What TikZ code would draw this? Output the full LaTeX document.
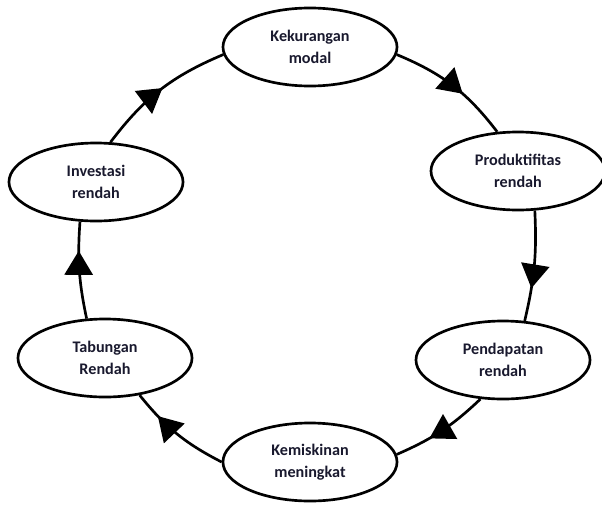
\documentclass[tikz,border=0pt]{standalone}
\usepackage{fontspec}
\setmainfont{Carlito}
\usepackage{tikz}
\usetikzlibrary{arrows.meta,shapes.geometric,decorations.markings}
\definecolor{textdark}{rgb}{0.1,0.1,0.18}

\begin{document}
\begin{tikzpicture}[x=0.025cm,y=-0.025cm,line width=1.9pt]
\tikzstyle{cycle box}=[ellipse,draw=black,line width=1.9pt,fill=white,inner sep=0pt,
  minimum width=4.35cm,minimum height=1.95cm,align=center,text=textdark,
  font=\fontsize{11.5}{15.5}\selectfont\bfseries]
\tikzstyle{midarrow}=[postaction={decorate},
  decoration={markings,mark=at position #1 with {\arrow{Triangle[length=17pt,width=20pt]}}}]
\useasboundingbox (0,0) rectangle (602,506);
\node[cycle box] (modal)  at (310,47)  {Kekurangan\\modal};
\node[cycle box] (prod)   at (518,171) {Produktifitas\\rendah};
\node[cycle box] (pend)   at (503,360) {Pendapatan\\rendah};
\node[cycle box] (miskin) at (310,462) {Kemiskinan\\meningkat};
\node[cycle box] (tabung) at (105,358) {Tabungan\\Rendah};
\node[cycle box] (invest) at (96,182)  {Investasi\\rendah};
\path (modal.-5)    edge [bend left=15,midarrow=0.6]  (prod.118)
      (prod.-67)    edge [bend left=8,midarrow=0.7]   (pend.61)
      (pend.-120)   edge [bend left=10,midarrow=0.64] (miskin.5)
      (miskin.180)  edge [bend left=12,midarrow=0.74] (tabung.-47)
      (tabung.115)  edge [bend left=8,midarrow=0.7]   (invest.-112)
      (invest.70)   edge [bend left=15,midarrow=0.52] (modal.185);
\end{tikzpicture}
\end{document}
